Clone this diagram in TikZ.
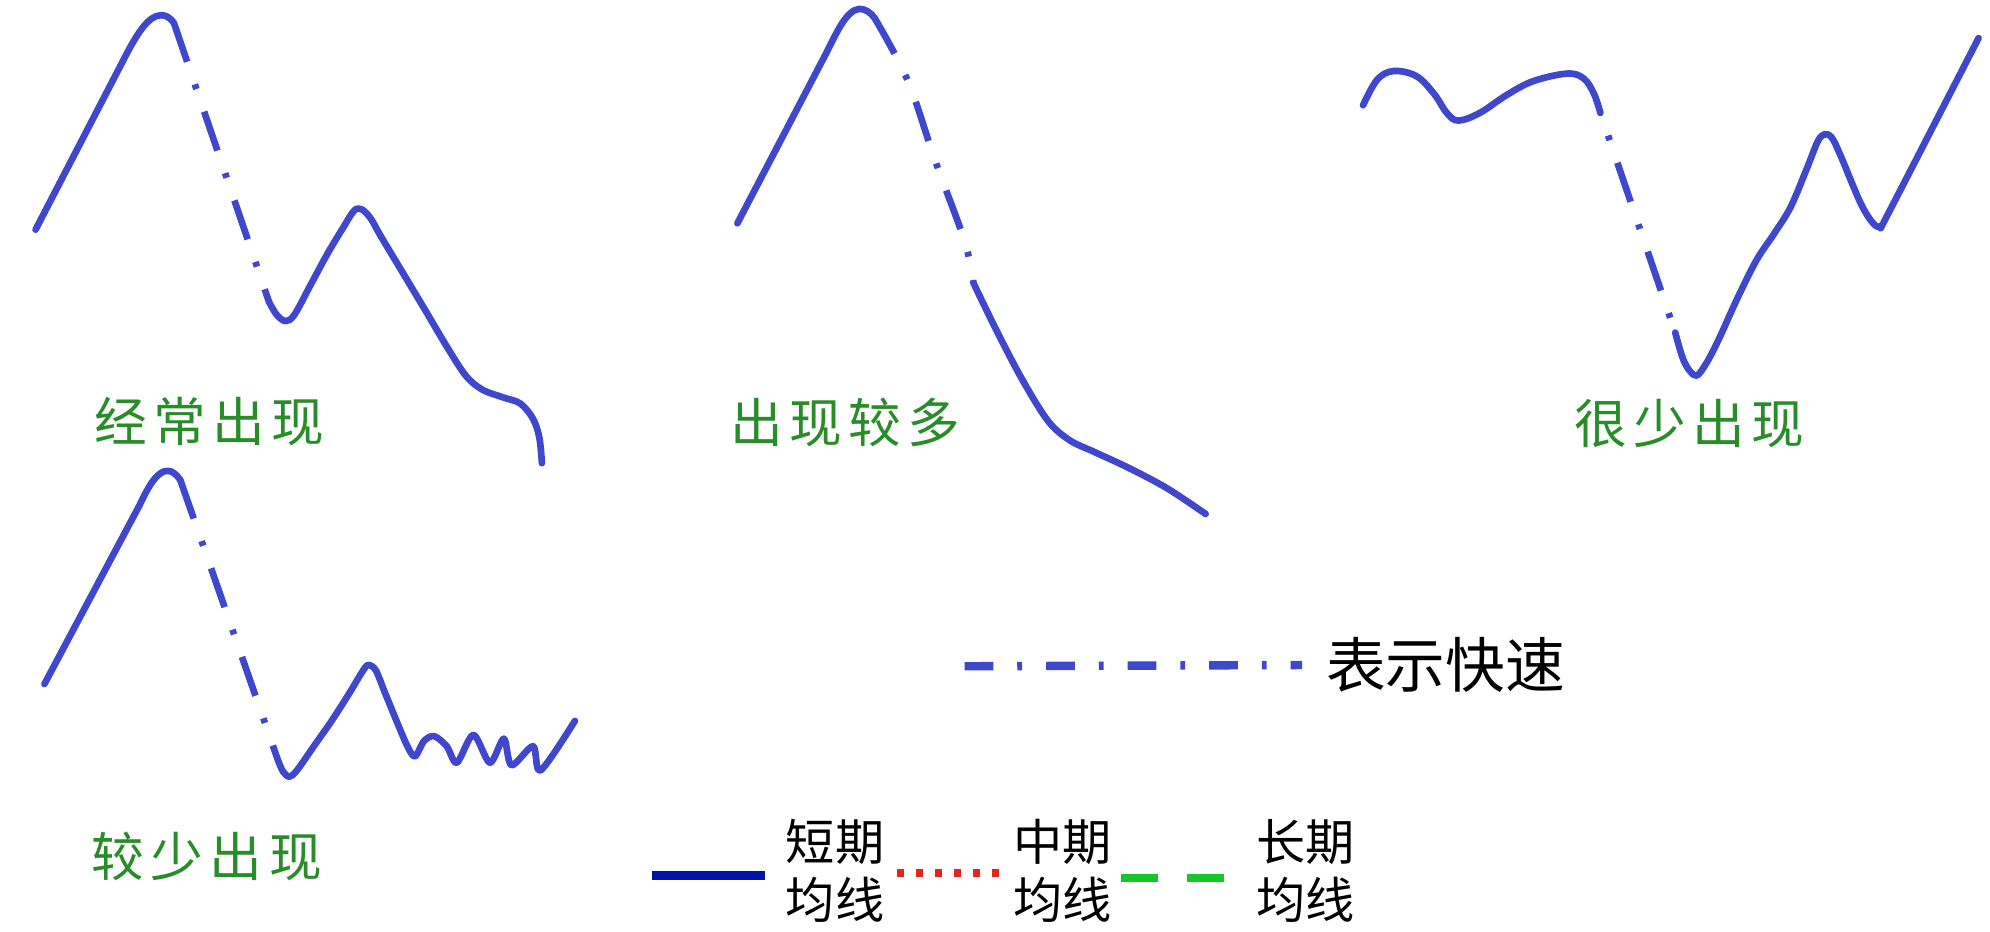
\documentclass[tikz,border=0pt]{standalone}
\usepackage{fontspec}
\newfontfamily\cjk{Noto Sans CJK SC}
\newfontfamily\cjktag{Noto Sans CJK SC}[LetterSpace=12]
\usetikzlibrary{arrows.meta}
\definecolor{curveblue}{RGB}{63,72,204}
\definecolor{keyblue}{RGB}{0,20,170}
\definecolor{keyred}{RGB}{232,36,30}
\definecolor{keygreen}{RGB}{20,200,40}
\definecolor{taggreen}{RGB}{40,140,40}

\begin{document}
\begin{tikzpicture}[x=0.012691cm, y=-0.012691cm,
	curve/.style={curveblue, line width=1.9pt, line cap=round, line join=round},
	fast/.style={curveblue, line width=1.9pt, dash pattern=on 11.7pt off 6.8pt on 1.4pt off 6.8pt},
	tag/.style={taggreen, inner sep=0pt, font=\cjktag\fontsize{15pt}{18pt}\selectfont},
	key/.style={black, inner sep=0pt, align=center, font=\cjk\fontsize{14pt}{16.5pt}\selectfont}]
	\useasboundingbox (0,0) rectangle (1568,734);
%	\draw[gray!30, step=100] (0,0) grid (1568,734);
	% chart 1
	\draw[curve] (28,181) -- (100,42) .. controls (108,27) and (117,12) .. (127,12) .. controls (131,12) and (134,14) .. (137,18);
	\draw[fast] (137,18) -- (212,238);
	\draw[curve] plot[smooth, tension=.55] coordinates {(212,238) (218,248) (225,253) (232,248) (245,224) (258,200) (270,180) (279,166) (285,165) (292,172) (300,186) (318,216) (336,246) (352,273) (367,296) (380,307) (396,313) (410,318) (420,330) (425,345) (427,365)};
	\node[tag] (often) at (165,332) {经常出现};
	
	% chart 2
	\draw[curve] (581,176) -- (652,40) .. controls (659,26) and (667,8) .. (677,7) .. controls (682,7) and (686,10) .. (689,14);
	\draw[fast] plot[smooth, tension=.6] coordinates {(689,14) (715,63) (737,127) (760,190) (767,223)};
	\draw[curve] plot[smooth, tension=.55] coordinates {(767,223) (786,262) (806,300) (826,332) (843,347) (862,356) (890,369) (920,385) (950,405)};
	\node[tag] (more) at (666,333) {出现较多};
	
	% chart 3
	\draw[curve] plot[smooth, tension=.6] coordinates {(1074,83) (1085,63) (1098,56) (1116,60) (1130,74) (1140,89) (1149,95) (1166,89) (1187,75) (1208,64) (1235,58) (1248,62) (1256,74) (1261,89)};
	\draw[fast, dash phase=11.7pt] (1261,89) -- (1320,262);
	\draw[curve] plot[smooth, tension=.55] coordinates {(1320,262) (1327,285) (1336,296) (1344,287) (1354,268) (1369,235) (1384,205) (1398,184) (1411,163) (1424,132) (1432,112) (1437,106) (1443,108) (1450,122) (1466,160) (1476,176) (1482,178) (1489,166) (1559,30)};
	\node[tag] (rare) at (1331,334) {很少出现};
	
	% chart 4
	\draw[curve] (35,539) -- (110,398) .. controls (117,383) and (124,371) .. (132,371) .. controls (136,371) and (139,374) .. (142,378);
	\draw[fast] (142,378) -- (219,599);
	\draw[curve] plot[smooth, tension=.5] coordinates {(219,599) (223,608) (228,612) (234,607) (248,587) (262,567) (276,545) (285,530) (290,524) (296,528) (303,545) (312,567) (321,588) (327,596) (334,584) (342,580) (352,588) (360,601) (373,579) (386,601) (397,582) (403,603) (420,588) (426,607) (453,568)};
	\node[tag] (less) at (163,675) {较少出现};
	
	% legend
	\node[key, font=\cjk\fontsize{17pt}{20pt}\selectfont] (quick) at (1139,524) {表示快速};
	\coordinate (qs) at (760,525);
	\draw[curveblue, line width=2.4pt, dash pattern=on 8.2pt off 6.8pt on 1.4pt off 6.8pt] (qs) -- (quick.west -| 1026,0);
	
	\node[key] (short) at (658,686) {短期\\均线};
	\node[key] (mid) at (837,686) {中期\\均线};
	\node[key] (long) at (1029,686) {长期\\均线};
	\coordinate (ss) at (514,690);
	\coordinate (ms) at (707,688);
	\coordinate (ls) at (883,692);
	\draw[keyblue, line width=2.6pt] (ss) -- ++(89,0);
	\draw[keyred, line width=2.2pt, dash pattern=on 2pt off 3.4pt] (ms) -- ++(80,0);
	\draw[keygreen, line width=2.4pt, dash pattern=on 10.5pt off 8.5pt] (ls) -- ++(82,0);
\end{tikzpicture}
\end{document}
